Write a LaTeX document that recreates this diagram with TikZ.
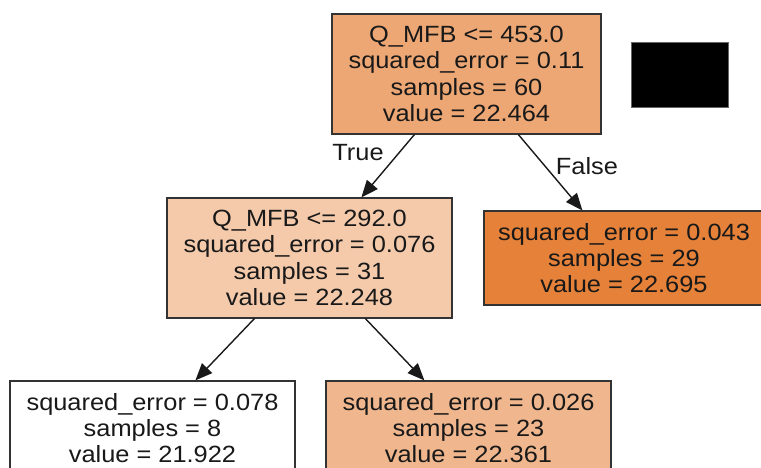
\documentclass[tikz,border=0pt]{standalone}
\usepackage{fontspec}
\setmainfont{Liberation Sans}[FakeStretch=1.08]
\usetikzlibrary{arrows.meta,calc}
\definecolor{c0}{RGB}{237,167,116}
\definecolor{c1}{RGB}{244,202,171}
\definecolor{c2}{RGB}{229,129,57}
\definecolor{c3}{RGB}{240,183,142}
\begin{document}
\begin{tikzpicture}[x=1pt,y=-1pt,
  treebox/.style={draw=black!80,line width=1.2pt,rectangle,align=center,inner sep=0pt,
    font=\fontsize{23.5}{26.3}\selectfont,text=black!90},
  edge/.style={draw=black!90,line width=1.4pt,-{Triangle[length=17pt,width=14pt]}},
  elabel/.style={font=\fontsize{23.5}{26.3}\selectfont,text=black!90}]
\useasboundingbox (0,0) rectangle (761,468);
\clip (0,0) rectangle (761,468);
\node[treebox,fill=c0,minimum width=269pt,minimum height=120pt] (root) at (466.5,74)
  {Q\_MFB <= 453.0\\squared\_error = 0.11\\samples = 60\\value = 22.464};
\node[treebox,fill=c1,minimum width=285pt,minimum height=120pt] (mid) at (309.5,258)
  {Q\_MFB <= 292.0\\squared\_error = 0.076\\samples = 31\\value = 22.248};
\node[treebox,fill=c2,minimum width=280pt,minimum height=94pt] (fleaf) at (624,258)
  {squared\_error = 0.043\\samples = 29\\value = 22.695};
\node[treebox,fill=white,minimum width=285pt,minimum height=94pt] (lleaf) at (152.5,428)
  {squared\_error = 0.078\\samples = 8\\value = 21.922};
\node[treebox,fill=c3,minimum width=285pt,minimum height=94pt] (mleaf) at (468.5,428)
  {squared\_error = 0.026\\samples = 23\\value = 22.361};
\node[draw=black!60,line width=0.8pt,fill=black,minimum width=97pt,minimum height=65pt,inner sep=0pt] (blk) at (680,74.5) {};
\draw[edge] ($(root.south west)+(83,0)$) -- ($(mid.north west)+(195,0)$);
\draw[edge] ($(root.south west)+(187,0)$) -- ($(fleaf.north west)+(99,0)$);
\draw[edge] ($(mid.south west)+(88,0)$) -- ($(lleaf.north west)+(186,0)$);
\draw[edge] ($(mid.south west)+(199,0)$) -- ($(mleaf.north west)+(99,0)$);
\node[elabel] (tl) at (358,153) {True};
\node[elabel] (fl) at (587,166) {False};
\end{tikzpicture}
\end{document}
